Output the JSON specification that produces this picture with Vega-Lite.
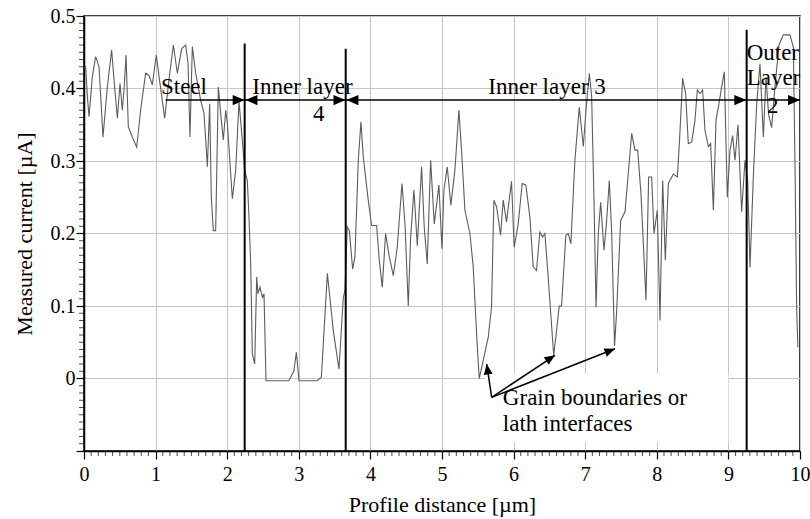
{
  "$schema": "https://vega.github.io/schema/vega-lite/v6.json",
  "width": 716,
  "height": 435,
  "autosize": {"type": "none"},
  "padding": {"left": 84, "top": 16, "right": 10, "bottom": 68},
  "background": "white",
  "config": {
    "view": {"stroke": "black", "strokeWidth": 1.5},
    "font": "Times New Roman",
    "text": {"font": "Times New Roman"},
    "axis": {
      "labelFont": "Times New Roman", "labelFontSize": 20, "labelColor": "black",
      "titleFont": "Times New Roman", "titleFontSize": 22, "titleFontWeight": "normal", "titleColor": "black",
      "domainColor": "black", "tickColor": "black", "gridColor": "#c6c6c6", "gridWidth": 1
    }
  },
  "datasets": {
    "trace": [
      {"distance": 0, "current": 0.428}, {"distance": 0.023, "current": 0.43}, {"distance": 0.047, "current": 0.389},
      {"distance": 0.07, "current": 0.361}, {"distance": 0.116, "current": 0.416}, {"distance": 0.163, "current": 0.444},
      {"distance": 0.21, "current": 0.43}, {"distance": 0.265, "current": 0.333}, {"distance": 0.326, "current": 0.402},
      {"distance": 0.386, "current": 0.453}, {"distance": 0.419, "current": 0.412}, {"distance": 0.466, "current": 0.359},
      {"distance": 0.503, "current": 0.407}, {"distance": 0.535, "current": 0.37}, {"distance": 0.559, "current": 0.398},
      {"distance": 0.587, "current": 0.446}, {"distance": 0.619, "current": 0.347}, {"distance": 0.675, "current": 0.333},
      {"distance": 0.736, "current": 0.319}, {"distance": 0.791, "current": 0.37}, {"distance": 0.861, "current": 0.421},
      {"distance": 0.908, "current": 0.418}, {"distance": 0.954, "current": 0.405}, {"distance": 1.01, "current": 0.446},
      {"distance": 1.061, "current": 0.407}, {"distance": 1.127, "current": 0.359}, {"distance": 1.187, "current": 0.412},
      {"distance": 1.248, "current": 0.46}, {"distance": 1.304, "current": 0.421}, {"distance": 1.364, "current": 0.455},
      {"distance": 1.42, "current": 0.46}, {"distance": 1.453, "current": 0.435}, {"distance": 1.48, "current": 0.333},
      {"distance": 1.513, "current": 0.458}, {"distance": 1.56, "current": 0.421}, {"distance": 1.629, "current": 0.384},
      {"distance": 1.676, "current": 0.366}, {"distance": 1.723, "current": 0.292}, {"distance": 1.755, "current": 0.379},
      {"distance": 1.778, "current": 0.25}, {"distance": 1.806, "current": 0.204}, {"distance": 1.839, "current": 0.204},
      {"distance": 1.876, "current": 0.402}, {"distance": 1.918, "current": 0.356}, {"distance": 1.946, "current": 0.329},
      {"distance": 1.979, "current": 0.37}, {"distance": 2.002, "current": 0.352}, {"distance": 2.072, "current": 0.248},
      {"distance": 2.118, "current": 0.287}, {"distance": 2.165, "current": 0.382}, {"distance": 2.211, "current": 0.329},
      {"distance": 2.244, "current": 0.287}, {"distance": 2.281, "current": 0.273}, {"distance": 2.304, "current": 0.223},
      {"distance": 2.328, "current": 0.158}, {"distance": 2.351, "current": 0.034}, {"distance": 2.384, "current": 0.02},
      {"distance": 2.412, "current": 0.14}, {"distance": 2.43, "current": 0.117}, {"distance": 2.458, "current": 0.126},
      {"distance": 2.491, "current": 0.112}, {"distance": 2.514, "current": 0.117}, {"distance": 2.542, "current": -0.003},
      {"distance": 2.86, "current": -0.003}, {"distance": 2.93, "current": 0.01}, {"distance": 2.966, "current": 0.036},
      {"distance": 3.003, "current": -0.003}, {"distance": 3.259, "current": -0.003}, {"distance": 3.315, "current": 0.002},
      {"distance": 3.399, "current": 0.145}, {"distance": 3.482, "current": 0.066}, {"distance": 3.561, "current": 0.013},
      {"distance": 3.622, "current": 0.112}, {"distance": 3.645, "current": 0.122}, {"distance": 3.677, "current": 0.209},
      {"distance": 3.706, "current": 0.204}, {"distance": 3.752, "current": 0.151}, {"distance": 3.784, "current": 0.168},
      {"distance": 3.831, "current": 0.301}, {"distance": 3.868, "current": 0.354}, {"distance": 3.9, "current": 0.306},
      {"distance": 3.97, "current": 0.246}, {"distance": 4.017, "current": 0.211}, {"distance": 4.087, "current": 0.211},
      {"distance": 4.124, "current": 0.163}, {"distance": 4.166, "current": 0.126}, {"distance": 4.212, "current": 0.2},
      {"distance": 4.264, "current": 0.168}, {"distance": 4.32, "current": 0.142}, {"distance": 4.375, "current": 0.181},
      {"distance": 4.441, "current": 0.269}, {"distance": 4.483, "current": 0.213}, {"distance": 4.529, "current": 0.1},
      {"distance": 4.562, "current": 0.195}, {"distance": 4.608, "current": 0.26}, {"distance": 4.655, "current": 0.183},
      {"distance": 4.715, "current": 0.292}, {"distance": 4.752, "current": 0.209}, {"distance": 4.794, "current": 0.158},
      {"distance": 4.841, "current": 0.301}, {"distance": 4.892, "current": 0.213}, {"distance": 4.957, "current": 0.267},
      {"distance": 4.999, "current": 0.179}, {"distance": 5.027, "current": 0.26}, {"distance": 5.073, "current": 0.292},
      {"distance": 5.124, "current": 0.239}, {"distance": 5.18, "current": 0.287}, {"distance": 5.236, "current": 0.37},
      {"distance": 5.273, "current": 0.315}, {"distance": 5.32, "current": 0.232}, {"distance": 5.39, "current": 0.2},
      {"distance": 5.436, "current": 0.154}, {"distance": 5.483, "current": 0.062}, {"distance": 5.52, "current": 0.0},
      {"distance": 5.576, "current": 0.025}, {"distance": 5.646, "current": 0.057}, {"distance": 5.692, "current": 0.099},
      {"distance": 5.725, "current": 0.246}, {"distance": 5.762, "current": 0.237}, {"distance": 5.818, "current": 0.198},
      {"distance": 5.855, "current": 0.246}, {"distance": 5.901, "current": 0.216}, {"distance": 5.971, "current": 0.272},
      {"distance": 6.008, "current": 0.181}, {"distance": 6.064, "current": 0.213}, {"distance": 6.12, "current": 0.269},
      {"distance": 6.171, "current": 0.267}, {"distance": 6.227, "current": 0.223}, {"distance": 6.274, "current": 0.154},
      {"distance": 6.32, "current": 0.149}, {"distance": 6.367, "current": 0.202}, {"distance": 6.404, "current": 0.195},
      {"distance": 6.437, "current": 0.2}, {"distance": 6.483, "current": 0.14}, {"distance": 6.56, "current": 0.032},
      {"distance": 6.59, "current": 0.057}, {"distance": 6.637, "current": 0.1}, {"distance": 6.67, "current": 0.1},
      {"distance": 6.73, "current": 0.198}, {"distance": 6.763, "current": 0.2}, {"distance": 6.8, "current": 0.186},
      {"distance": 6.856, "current": 0.301}, {"distance": 6.917, "current": 0.374}, {"distance": 6.974, "current": 0.32},
      {"distance": 7.011, "current": 0.37}, {"distance": 7.058, "current": 0.421}, {"distance": 7.09, "current": 0.389},
      {"distance": 7.123, "current": 0.246}, {"distance": 7.151, "current": 0.098}, {"distance": 7.183, "current": 0.2},
      {"distance": 7.216, "current": 0.243}, {"distance": 7.262, "current": 0.177}, {"distance": 7.297, "current": 0.214},
      {"distance": 7.337, "current": 0.273}, {"distance": 7.37, "current": 0.2}, {"distance": 7.41, "current": 0.045},
      {"distance": 7.44, "current": 0.094}, {"distance": 7.495, "current": 0.218}, {"distance": 7.556, "current": 0.23},
      {"distance": 7.617, "current": 0.301}, {"distance": 7.649, "current": 0.338}, {"distance": 7.695, "current": 0.315},
      {"distance": 7.733, "current": 0.315}, {"distance": 7.779, "current": 0.255}, {"distance": 7.849, "current": 0.108},
      {"distance": 7.886, "current": 0.278}, {"distance": 7.928, "current": 0.278}, {"distance": 7.961, "current": 0.2},
      {"distance": 8.007, "current": 0.232}, {"distance": 8.045, "current": 0.08}, {"distance": 8.082, "current": 0.273},
      {"distance": 8.119, "current": 0.163}, {"distance": 8.161, "current": 0.269}, {"distance": 8.231, "current": 0.282},
      {"distance": 8.287, "current": 0.278}, {"distance": 8.315, "current": 0.324}, {"distance": 8.361, "current": 0.414},
      {"distance": 8.403, "current": 0.393}, {"distance": 8.44, "current": 0.324}, {"distance": 8.487, "current": 0.326},
      {"distance": 8.533, "current": 0.356}, {"distance": 8.566, "current": 0.398}, {"distance": 8.603, "current": 0.393},
      {"distance": 8.64, "current": 0.398}, {"distance": 8.673, "current": 0.342}, {"distance": 8.72, "current": 0.32},
      {"distance": 8.752, "current": 0.324}, {"distance": 8.79, "current": 0.232}, {"distance": 8.827, "current": 0.356},
      {"distance": 8.873, "current": 0.382}, {"distance": 8.905, "current": 0.402}, {"distance": 8.943, "current": 0.423},
      {"distance": 8.985, "current": 0.25}, {"distance": 9.022, "current": 0.315}, {"distance": 9.059, "current": 0.335},
      {"distance": 9.092, "current": 0.301}, {"distance": 9.134, "current": 0.35}, {"distance": 9.185, "current": 0.23},
      {"distance": 9.232, "current": 0.301}, {"distance": 9.269, "current": 0.273}, {"distance": 9.302, "current": 0.153},
      {"distance": 9.348, "current": 0.278}, {"distance": 9.395, "current": 0.379}, {"distance": 9.441, "current": 0.434},
      {"distance": 9.488, "current": 0.333}, {"distance": 9.525, "current": 0.416}, {"distance": 9.562, "current": 0.364},
      {"distance": 9.604, "current": 0.346}, {"distance": 9.65, "current": 0.402}, {"distance": 9.706, "current": 0.46},
      {"distance": 9.767, "current": 0.474}, {"distance": 9.86, "current": 0.474}, {"distance": 9.907, "current": 0.457},
      {"distance": 9.93, "current": 0.296}, {"distance": 9.953, "current": 0.098}, {"distance": 9.97, "current": 0.043}
    ],
    "boundaries": [
      {"position": 2.244, "bottom": -0.1, "top": 0.462},
      {"position": 3.655, "bottom": -0.1, "top": 0.455},
      {"position": 9.255, "bottom": -0.1, "top": 0.481}
    ],
    "spans": [
      {"from": 1.14, "to": 2.244, "level": 0.384},
      {"from": 2.25, "to": 3.655, "level": 0.384},
      {"from": 3.66, "to": 9.25, "level": 0.384},
      {"from": 9.26, "to": 10, "level": 0.384}
    ],
    "headsRight": [
      {"tip": 2.244, "level": 0.384}, {"tip": 3.652, "level": 0.384},
      {"tip": 9.25, "level": 0.384}, {"tip": 10, "level": 0.384}
    ],
    "headsLeft": [
      {"tip": 2.255, "level": 0.384}, {"tip": 3.665, "level": 0.384}
    ],
    "pointers": [
      {"x1": 5.694, "y1": -0.026, "x2": 5.624, "y2": 0.02, "dir": -8.5},
      {"x1": 5.694, "y1": -0.026, "x2": 6.578, "y2": 0.032, "dir": 56.6},
      {"x1": 5.694, "y1": -0.026, "x2": 7.416, "y2": 0.041, "dir": 68.6}
    ],
    "labelsLeft": [
      {"text": "Steel", "x": 1.075, "y": 0.392},
      {"text": "Inner layer", "x": 2.351, "y": 0.392},
      {"text": "Inner layer 3", "x": 5.647, "y": 0.392},
      {"text": "Outer", "x": 9.255, "y": 0.44},
      {"text": "Layer", "x": 9.255, "y": 0.405},
      {"text": "Grain boundaries or", "x": 5.85, "y": -0.036},
      {"text": "lath interfaces", "x": 5.85, "y": -0.072}
    ],
    "labelsCenter": [
      {"text": "4", "x": 3.28, "y": 0.355},
      {"text": "2", "x": 9.62, "y": 0.366}
    ],
    "textBox": [
      {"x1": 5.6, "x2": 9.0, "y1": -0.088, "y2": 0.007}
    ],
    "minorX": [
      {"v": 0.1}, {"v": 0.2}, {"v": 0.3}, {"v": 0.4}, {"v": 0.5}, {"v": 0.6}, {"v": 0.7}, {"v": 0.8}, {"v": 0.9},
      {"v": 1.1}, {"v": 1.2}, {"v": 1.3}, {"v": 1.4}, {"v": 1.5}, {"v": 1.6}, {"v": 1.7}, {"v": 1.8}, {"v": 1.9},
      {"v": 2.1}, {"v": 2.2}, {"v": 2.3}, {"v": 2.4}, {"v": 2.5}, {"v": 2.6}, {"v": 2.7}, {"v": 2.8}, {"v": 2.9},
      {"v": 3.1}, {"v": 3.2}, {"v": 3.3}, {"v": 3.4}, {"v": 3.5}, {"v": 3.6}, {"v": 3.7}, {"v": 3.8}, {"v": 3.9},
      {"v": 4.1}, {"v": 4.2}, {"v": 4.3}, {"v": 4.4}, {"v": 4.5}, {"v": 4.6}, {"v": 4.7}, {"v": 4.8}, {"v": 4.9},
      {"v": 5.1}, {"v": 5.2}, {"v": 5.3}, {"v": 5.4}, {"v": 5.5}, {"v": 5.6}, {"v": 5.7}, {"v": 5.8}, {"v": 5.9},
      {"v": 6.1}, {"v": 6.2}, {"v": 6.3}, {"v": 6.4}, {"v": 6.5}, {"v": 6.6}, {"v": 6.7}, {"v": 6.8}, {"v": 6.9},
      {"v": 7.1}, {"v": 7.2}, {"v": 7.3}, {"v": 7.4}, {"v": 7.5}, {"v": 7.6}, {"v": 7.7}, {"v": 7.8}, {"v": 7.9},
      {"v": 8.1}, {"v": 8.2}, {"v": 8.3}, {"v": 8.4}, {"v": 8.5}, {"v": 8.6}, {"v": 8.7}, {"v": 8.8}, {"v": 8.9},
      {"v": 9.1}, {"v": 9.2}, {"v": 9.3}, {"v": 9.4}, {"v": 9.5}, {"v": 9.6}, {"v": 9.7}, {"v": 9.8}, {"v": 9.9}
    ],
    "minorY": [
      {"v": -0.09}, {"v": -0.08}, {"v": -0.07}, {"v": -0.06}, {"v": -0.05}, {"v": -0.04}, {"v": -0.03}, {"v": -0.02}, {"v": -0.01},
      {"v": 0.01}, {"v": 0.02}, {"v": 0.03}, {"v": 0.04}, {"v": 0.05}, {"v": 0.06}, {"v": 0.07}, {"v": 0.08}, {"v": 0.09},
      {"v": 0.11}, {"v": 0.12}, {"v": 0.13}, {"v": 0.14}, {"v": 0.15}, {"v": 0.16}, {"v": 0.17}, {"v": 0.18}, {"v": 0.19},
      {"v": 0.21}, {"v": 0.22}, {"v": 0.23}, {"v": 0.24}, {"v": 0.25}, {"v": 0.26}, {"v": 0.27}, {"v": 0.28}, {"v": 0.29},
      {"v": 0.31}, {"v": 0.32}, {"v": 0.33}, {"v": 0.34}, {"v": 0.35}, {"v": 0.36}, {"v": 0.37}, {"v": 0.38}, {"v": 0.39},
      {"v": 0.41}, {"v": 0.42}, {"v": 0.43}, {"v": 0.44}, {"v": 0.45}, {"v": 0.46}, {"v": 0.47}, {"v": 0.48}, {"v": 0.49}
    ]
  },
  "layer": [
    {
      "data": {"name": "trace"},
      "mark": {"type": "line", "color": "#5c5c5c", "strokeWidth": 1.1, "interpolate": "linear"},
      "encoding": {
        "x": {"field": "distance", "type": "quantitative",
          "scale": {"domain": [0, 10], "nice": false, "zero": false},
          "axis": {"orient": "bottom", "values": [0, 1, 2, 3, 4, 5, 6, 7, 8, 9, 10], "format": "d", "grid": true, "tickSize": 8, "tickWidth": 1.2, "domainWidth": 1.5, "labelPadding": 5, "labelFlush": false, "labelOverlap": false, "titlePadding": 10, "title": "Profile distance [µm]"}},
        "y": {"field": "current", "type": "quantitative",
          "scale": {"domain": [-0.1, 0.5], "nice": false, "zero": false},
          "axis": {"orient": "left", "values": [-0.1, 0, 0.1, 0.2, 0.3, 0.4, 0.5], "format": ".1~f", "labelExpr": "datum.value < -0.05 ? '' : datum.label", "grid": true, "tickSize": 8, "tickWidth": 1.2, "domainWidth": 1.5, "labelPadding": 1, "labelFlush": false, "labelOverlap": false, "titlePadding": 14, "title": "Measured current [µA]"}}
      }
    },
    {
      "data": {"name": "textBox"},
      "mark": {"type": "rect", "fill": "white"},
      "encoding": {
        "x": {"field": "x1", "type": "quantitative", "axis": null},
        "x2": {"field": "x2"},
        "y": {"field": "y1", "type": "quantitative", "axis": null},
        "y2": {"field": "y2"}
      }
    },
    {
      "data": {"name": "minorX"},
      "mark": {"type": "tick", "orient": "vertical", "color": "black", "thickness": 1, "size": 5, "yOffset": 2.5, "clip": false},
      "encoding": {
        "x": {"field": "v", "type": "quantitative", "axis": null},
        "y": {"datum": -0.1, "type": "quantitative", "axis": null}
      }
    },
    {
      "data": {"name": "minorY"},
      "mark": {"type": "tick", "orient": "horizontal", "color": "black", "thickness": 1, "size": 5, "xOffset": -2.5, "clip": false},
      "encoding": {
        "y": {"field": "v", "type": "quantitative", "axis": null},
        "x": {"datum": 0, "type": "quantitative", "axis": null}
      }
    },
    {
      "data": {"name": "boundaries"},
      "mark": {"type": "rule", "color": "black", "strokeWidth": 2},
      "encoding": {
        "x": {"field": "position", "type": "quantitative", "axis": null},
        "y": {"field": "bottom", "type": "quantitative", "axis": null},
        "y2": {"field": "top"}
      }
    },
    {
      "data": {"name": "spans"},
      "mark": {"type": "rule", "color": "black", "strokeWidth": 1.5},
      "encoding": {
        "x": {"field": "from", "type": "quantitative", "axis": null},
        "x2": {"field": "to"},
        "y": {"field": "level", "type": "quantitative", "axis": null}
      }
    },
    {
      "data": {"name": "headsRight"},
      "mark": {"type": "point", "shape": "M0,0L-2,-0.85L-2,0.85Z", "size": 144, "filled": true, "color": "black", "opacity": 1},
      "encoding": {
        "x": {"field": "tip", "type": "quantitative", "axis": null},
        "y": {"field": "level", "type": "quantitative", "axis": null}
      }
    },
    {
      "data": {"name": "headsLeft"},
      "mark": {"type": "point", "shape": "M0,0L2,-0.85L2,0.85Z", "size": 144, "filled": true, "color": "black", "opacity": 1},
      "encoding": {
        "x": {"field": "tip", "type": "quantitative", "axis": null},
        "y": {"field": "level", "type": "quantitative", "axis": null}
      }
    },
    {
      "data": {"name": "pointers"},
      "mark": {"type": "rule", "color": "black", "strokeWidth": 1.5},
      "encoding": {
        "x": {"field": "x1", "type": "quantitative", "axis": null},
        "y": {"field": "y1", "type": "quantitative", "axis": null},
        "x2": {"field": "x2"},
        "y2": {"field": "y2"}
      }
    },
    {
      "data": {"name": "pointers"},
      "mark": {"type": "point", "shape": "M0,0L-0.85,2L0.85,2Z", "size": 110, "filled": true, "color": "black", "opacity": 1},
      "encoding": {
        "x": {"field": "x2", "type": "quantitative", "axis": null},
        "y": {"field": "y2", "type": "quantitative", "axis": null},
        "angle": {"field": "dir", "type": "quantitative", "scale": null}
      }
    },
    {
      "data": {"name": "labelsLeft"},
      "mark": {"type": "text", "font": "Times New Roman", "fontSize": 23, "color": "black", "align": "left", "baseline": "alphabetic"},
      "encoding": {
        "x": {"field": "x", "type": "quantitative", "axis": null},
        "y": {"field": "y", "type": "quantitative", "axis": null},
        "text": {"field": "text"}
      }
    },
    {
      "data": {"name": "labelsCenter"},
      "mark": {"type": "text", "font": "Times New Roman", "fontSize": 23, "color": "black", "align": "center", "baseline": "alphabetic"},
      "encoding": {
        "x": {"field": "x", "type": "quantitative", "axis": null},
        "y": {"field": "y", "type": "quantitative", "axis": null},
        "text": {"field": "text"}
      }
    }
  ],
  "resolve": {"axis": {"x": "independent", "y": "independent"}}
}
